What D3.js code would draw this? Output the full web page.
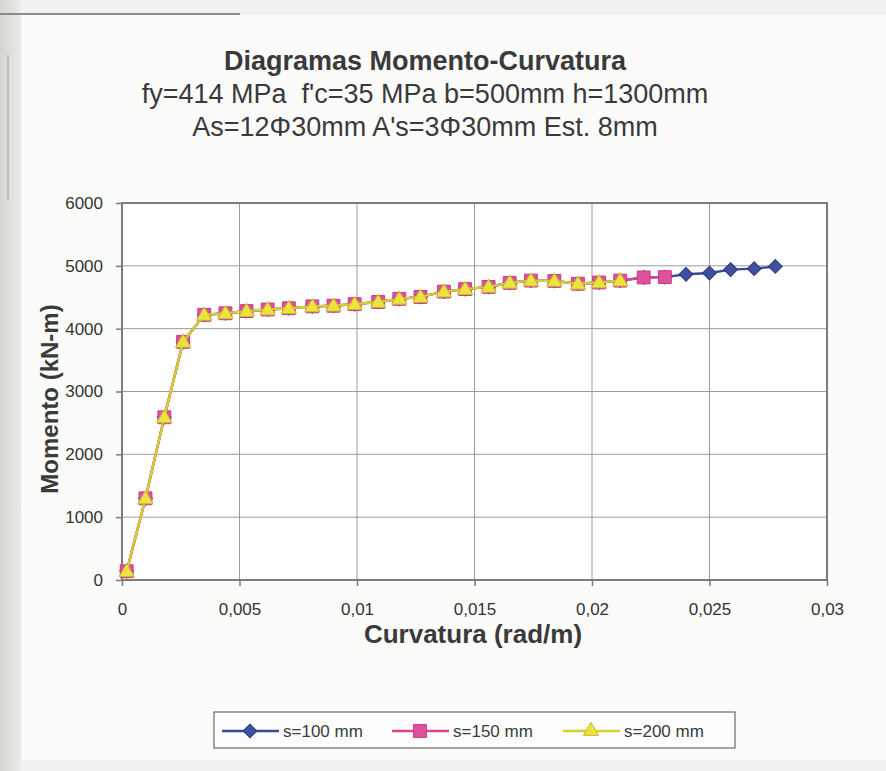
<!DOCTYPE html>
<html>
<head>
<meta charset="utf-8">
<script src="https://cdn.jsdelivr.net/npm/d3@7"></script>
<style>
  html, body { margin: 0; padding: 0; background: #f2f2f0; }
  svg { display: block; font-family: "Liberation Sans", Arial, sans-serif; }
</style>
</head>
<body>
<svg id="chart" width="886" height="771"></svg>
<script>
// ---- Data ----
const titleLines = [
  "Diagramas Momento-Curvatura",
  "fy=414 MPa\u00A0\u00A0f'c=35 MPa b=500mm h=1300mm",
  "As=12\u03A630mm A's=3\u03A630mm Est. 8mm"
];
const xTitle = "Curvatura (rad/m)";
const yTitle = "Momento (kN-m)";
const xTicks = [0, 0.005, 0.01, 0.015, 0.02, 0.025, 0.03];
const yTicks = [0, 1000, 2000, 3000, 4000, 5000, 6000];
const seriesNames = ["s=100 mm", "s=150 mm", "s=200 mm"];

// curvature values (rad/m)
const curv100 = [0.0002, 0.001, 0.0018, 0.0026, 0.0035, 0.0044, 0.0053, 0.0062, 0.0071, 0.0081,
  0.009, 0.0099, 0.0109, 0.0118, 0.0127, 0.0137, 0.0146, 0.0156, 0.0165, 0.0174,
  0.0184, 0.0194, 0.0203, 0.0212, 0.0222, 0.0231, 0.024, 0.025, 0.0259, 0.0269, 0.0278];
// moment values (kN-m)
const mom100 = [140, 1300, 2590, 3790, 4220, 4245, 4280, 4305, 4325, 4355,
  4365, 4390, 4425, 4475, 4505, 4590, 4630, 4665, 4730, 4765,
  4760, 4715, 4735, 4765, 4815, 4820, 4865, 4885, 4940, 4955, 4990];

const curv150 = [0.0002, 0.001, 0.0018, 0.0026, 0.0035, 0.0044, 0.0053, 0.0062, 0.0071, 0.0081,
  0.009, 0.0099, 0.0109, 0.0118, 0.0127, 0.0137, 0.0146, 0.0156, 0.0165, 0.0174,
  0.0184, 0.0194, 0.0203, 0.0212, 0.0222, 0.0231];
const mom150 = [140, 1300, 2590, 3790, 4220, 4245, 4280, 4305, 4325, 4355,
  4365, 4390, 4425, 4475, 4505, 4590, 4630, 4665, 4730, 4765,
  4760, 4715, 4735, 4765, 4815, 4820];

const curv200 = [0.0002, 0.001, 0.0018, 0.0026, 0.0035, 0.0044, 0.0053, 0.0062, 0.0071, 0.0081,
  0.009, 0.0099, 0.0109, 0.0118, 0.0127, 0.0137, 0.0146, 0.0156, 0.0165, 0.0174,
  0.0184, 0.0194, 0.0203, 0.0212];
const mom200 = [140, 1300, 2590, 3790, 4220, 4245, 4280, 4305, 4325, 4355,
  4365, 4390, 4425, 4475, 4505, 4590, 4630, 4665, 4730, 4765,
  4760, 4715, 4735, 4765];

// ---- Build ----
const svg = d3.select("#chart");
const W = 886, H = 771;
const plot = { left: 122, right: 827, top: 203, bottom: 580 };

// background (photographed page)
const defs = svg.append("defs");
const grad = defs.append("linearGradient").attr("id", "edge").attr("x1", 0).attr("x2", 1);
grad.append("stop").attr("offset", 0).attr("stop-color", "#d4d4d0");
grad.append("stop").attr("offset", 1).attr("stop-color", "#ebebe9");
svg.append("rect").attr("width", W).attr("height", H).attr("fill", "#f1f1ef");
svg.append("rect").attr("x", 0).attr("y", 0).attr("width", 21).attr("height", H).attr("fill", "url(#edge)");
svg.append("rect").attr("x", 21).attr("y", 15).attr("width", W - 21).attr("height", 745).attr("fill", "#fbfbfa");
svg.append("line").attr("x1", 0).attr("x2", 240).attr("y1", 14).attr("y2", 14)
  .attr("stroke", "#8a8a88").attr("stroke-width", 2);
svg.append("line").attr("x1", 8).attr("x2", 8).attr("y1", 55).attr("y2", 200)
  .attr("stroke", "#b0b0ac").attr("stroke-width", 1.5);

// titles
const titleBase = [70, 103, 136];
svg.append("g").selectAll("text").data(titleLines).join("text")
  .attr("x", 425).attr("y", (d, i) => titleBase[i])
  .attr("text-anchor", "middle")
  .attr("font-size", 27)
  .attr("font-weight", (d, i) => i === 0 ? "bold" : "normal")
  .attr("fill", "#3a3a3a")
  .text(d => d);

// scales
const x = d3.scaleLinear().domain([0, 0.03]).range([plot.left, plot.right]);
const y = d3.scaleLinear().domain([0, 6000]).range([plot.bottom, plot.top]);

// plot area background
svg.append("rect").attr("x", plot.left).attr("y", plot.top)
  .attr("width", plot.right - plot.left).attr("height", plot.bottom - plot.top)
  .attr("fill", "#ffffff");

// gridlines
const grid = svg.append("g").attr("stroke", "#9c9c9c").attr("stroke-width", 1);
grid.selectAll("line.h").data(yTicks.slice(1, -1)).join("line").attr("class", "h")
  .attr("x1", plot.left).attr("x2", plot.right)
  .attr("y1", d => y(d)).attr("y2", d => y(d));
grid.selectAll("line.v").data(xTicks.slice(1, -1)).join("line").attr("class", "v")
  .attr("y1", plot.top).attr("y2", plot.bottom)
  .attr("x1", d => x(d)).attr("x2", d => x(d));

// axes
const loc = d3.formatLocale({ decimal: ",", thousands: ".", grouping: [3], currency: ["", ""] });
const fx = loc.format("~g");
const xAxis = svg.append("g").attr("transform", `translate(0,${plot.bottom})`)
  .call(d3.axisBottom(x).tickValues(xTicks).tickFormat(fx).tickSize(6).tickPadding(17));
const yAxis = svg.append("g").attr("transform", `translate(${plot.left},0)`)
  .call(d3.axisLeft(y).tickValues(yTicks).tickFormat(d3.format("d")).tickSize(6).tickPadding(13));
[xAxis, yAxis].forEach(a => {
  a.select(".domain").remove();
  a.selectAll(".tick line").attr("stroke", "#7a7a7a").attr("stroke-width", 1.5);
  a.selectAll(".tick text").attr("font-size", 17).attr("fill", "#333333")
    .attr("font-family", "'Liberation Sans', Arial, sans-serif");
});

// plot border
svg.append("rect").attr("x", plot.left).attr("y", plot.top)
  .attr("width", plot.right - plot.left).attr("height", plot.bottom - plot.top)
  .attr("fill", "none").attr("stroke", "#7c7c7c").attr("stroke-width", 2);

// axis titles
svg.append("text").attr("x", 473).attr("y", 643).attr("text-anchor", "middle")
  .attr("font-size", 26).attr("font-weight", "bold").attr("fill", "#3a3a3a").text(xTitle);
svg.append("text").attr("transform", "translate(58,399) rotate(-90)").attr("text-anchor", "middle")
  .attr("font-size", 24).attr("font-weight", "bold").attr("fill", "#3a3a3a").text(yTitle);

// series
const series = [
  { name: seriesNames[0], xs: curv100, ys: mom100, line: "#3c4a98", fill: "#3e4fa0", stroke: "#2c3a80", sym: "diamond" },
  { name: seriesNames[1], xs: curv150, ys: mom150, line: "#d94590", fill: "#e0509c", stroke: "#c83a85", sym: "square" },
  { name: seriesNames[2], xs: curv200, ys: mom200, line: "#d6cf2e", fill: "#ebe43c", stroke: "#c7b93a", sym: "triangle" }
];
const symGen = {
  diamond: d3.symbol(d3.symbolSquare, 95),
  square: d3.symbol(d3.symbolSquare, 165),
  triangle: d3.symbol(d3.symbolTriangle, 100)
};
const symRot = { diamond: 45, square: 0, triangle: 0 };
const lineGen = d3.line().x(d => x(d[0])).y(d => y(d[1]));

series.forEach(s => {
  const pts = s.xs.map((v, i) => [v, s.ys[i]]);
  const g = svg.append("g");
  g.append("path").datum(pts).attr("d", lineGen)
    .attr("fill", "none").attr("stroke", s.line).attr("stroke-width", 2.4);
  g.selectAll("path.m").data(pts).join("path").attr("class", "m")
    .attr("d", symGen[s.sym])
    .attr("transform", d => `translate(${x(d[0])},${y(d[1]) + (s.sym === "triangle" ? 1 : 0)}) rotate(${symRot[s.sym]})`)
    .attr("fill", s.fill).attr("stroke", s.stroke).attr("stroke-width", 1);
});

// legend
const leg = svg.append("g");
leg.append("rect").attr("x", 214).attr("y", 712).attr("width", 521).attr("height", 36)
  .attr("fill", "#fdfdfd").attr("stroke", "#6a6a6a").attr("stroke-width", 1.2);
const legX = [222, 392, 563];
series.forEach((s, i) => {
  const g = leg.append("g").attr("transform", `translate(${legX[i]},731)`);
  g.append("line").attr("x1", 0).attr("x2", 57).attr("y1", 0).attr("y2", 0)
    .attr("stroke", s.line).attr("stroke-width", 2.4);
  g.append("path").attr("d", symGen[s.sym])
    .attr("transform", `translate(28,0) rotate(${symRot[s.sym]})`)
    .attr("fill", s.fill).attr("stroke", s.stroke);
  g.append("text").attr("x", 61).attr("y", 6).attr("font-size", 17).attr("fill", "#3a3a3a").text(s.name);
});
</script>
</body>
</html>
